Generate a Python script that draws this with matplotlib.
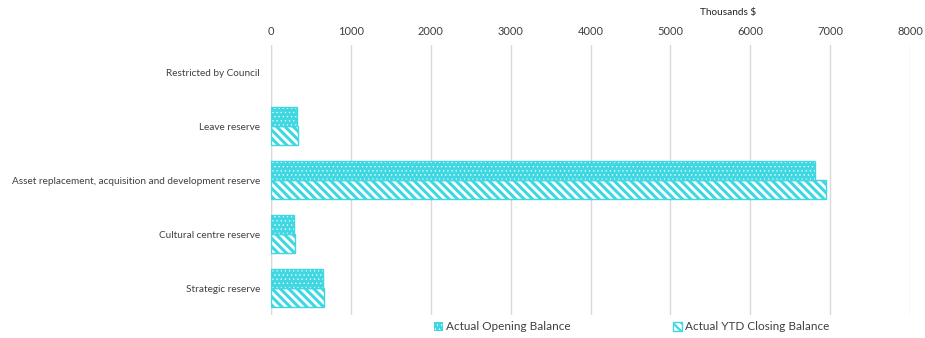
import numpy as np
import matplotlib.pyplot as plt
from matplotlib.patches import Patch

plt.rcParams['font.family'] = ['Lato', 'DejaVu Sans']

categories = ["Restricted by Council", "Leave reserve",
              "Asset replacement, acquisition and development reserve",
              "Cultural centre reserve", "Strategic reserve"]
opening = [0, 330, 6810, 290, 650]
closing = [0, 335, 6945, 295, 665]

CYAN = "#3fd7e2"
TXT = "#404040"
DOTS = "...."
STRIPES = "\\\\\\\\"

fig = plt.figure(figsize=(9.25, 3.38), dpi=100)
ax = fig.add_axes([271 / 925, 1 - 315 / 338, (910 - 271) / 925, (315 - 45) / 338])

y = np.arange(len(categories))
h = 0.36
edge_o = [CYAN if v > 0 else "none" for v in opening]
edge_c = [CYAN if v > 0 else "none" for v in closing]

# opening: cyan fill with small white dots
with plt.rc_context({'hatch.linewidth': 0.4}):
    ax.barh(y - h / 2, opening, height=h, color=CYAN, edgecolor="white", hatch=DOTS, linewidth=0, zorder=3)
ax.barh(y - h / 2, opening, height=h, color="none", edgecolor=edge_o, linewidth=1, zorder=4)

# closing: white with thick cyan diagonal stripes
with plt.rc_context({'hatch.linewidth': 2.2}):
    ax.barh(y + h / 2, closing, height=h, color="white", edgecolor=edge_c, hatch=STRIPES, linewidth=1, zorder=3)

ax.set_xlim(0, 8000)
ax.set_xticks(np.arange(0, 8001, 1000))
ax.set_ylim(len(categories) - 0.5, -0.5)
ax.set_yticks(y)
ax.set_yticklabels(categories, fontsize=7.2, color=TXT)
ax.xaxis.tick_top()
ax.tick_params(axis="x", length=0, labelsize=8, colors=TXT, pad=6)
ax.tick_params(axis="y", length=0, pad=8)
ax.grid(axis="x", color="#d9d9d9", linewidth=1, zorder=0)
for s in ax.spines.values():
    s.set_visible(False)
ax.axvline(0, color="#d9d9d9", linewidth=1, zorder=0)

fig.text(728 / 925, 1 - 12 / 338, "Thousands $", fontsize=7.2, color="#222222", ha="center", va="center")

h_open = Patch(facecolor=CYAN, edgecolor="white", hatch=DOTS, linewidth=0)
h_close = Patch(facecolor="white", edgecolor=CYAN, hatch=STRIPES)
leg = fig.legend([h_open, h_close], ["Actual Opening Balance", "Actual YTD Closing Balance"],
                 loc="center", bbox_to_anchor=(632 / 925, 1 - 327 / 338), ncol=2, frameon=False,
                 fontsize=8.5, labelcolor=TXT, handlelength=0.7, handleheight=0.7,
                 handletextpad=0.3, columnspacing=8.7)
lp = leg.get_patches()
lp[0].set_hatch_linewidth(0.4)
lp[1].set_hatch_linewidth(1.6)

fig.savefig("out.png", dpi=100)
